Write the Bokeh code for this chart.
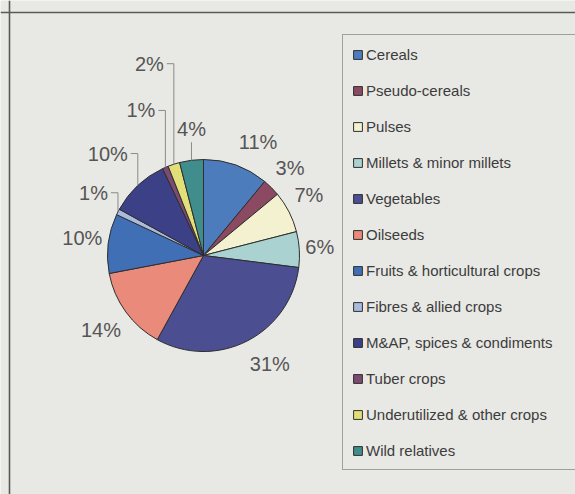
import math
from bokeh.plotting import figure
from bokeh.models import ColumnDataSource, Legend, LegendItem, Range1d, Span
from bokeh.core.properties import value
from bokeh.embed import file_html
from bokeh.resources import INLINE

# ---- data ----
categories = ["Cereals", "Pseudo-cereals", "Pulses", "Millets & minor millets", "Vegetables",
              "Oilseeds", "Fruits & horticultural crops", "Fibres & allied crops",
              "M&AP, spices & condiments", "Tuber crops", "Underutilized & other crops",
              "Wild relatives"]
shares = [11, 3, 7, 6, 31, 14, 10, 1, 10, 1, 2, 4]
colors = ["#4d7cbd", "#8b4a62", "#f3f1cf", "#a9d2d1", "#4b4f92", "#e98a7b",
          "#416fb6", "#a9badf", "#3c4086", "#7b4b72", "#e3df78", "#3f8d8c"]
# extra radial distance of labels that sit on leader lines (layout only)
label_push = [0, 0, 0, 0, 0, 0, 0, 6, 16, 37, 81, 7]

# ---- layout ----
W, H = 575, 494
CX, CY, R = 203, 239, 96
BG = "#e8e8e4"
FS = 20
FONT = "Liberation Sans"

total = float(sum(shares))
starts, ends, mids = [], [], []
cum = 0.0
for v in shares:
    starts.append(math.pi / 2 - 2 * math.pi * cum / total)
    mids.append(math.pi / 2 - 2 * math.pi * (cum + v / 2) / total)
    cum += v
    ends.append(math.pi / 2 - 2 * math.pi * cum / total)

src = ColumnDataSource(dict(category=categories, share=shares, color=colors,
                            start=starts, end=ends))

p = figure(width=W, height=H, output_backend="svg", toolbar_location=None,
           x_range=Range1d(0, W), y_range=Range1d(0, H),
           x_axis_type=None, y_axis_type=None, min_border=0)
p.grid.visible = False
p.outline_line_color = None
p.background_fill_color = BG
p.border_fill_color = BG

# outer frame of the scanned figure (left and top edges only visible)
p.add_layout(Span(location=9, dimension="height", line_color="#5a5a5a", line_width=1.6))
p.add_layout(Span(location=H - 12, dimension="width", line_color="#5a5a5a", line_width=1.6))

r = p.wedge(x=CX, y=CY, radius=R, start_angle="start", end_angle="end",
            direction="clock", fill_color="color", line_color="#2e2e2e",
            line_width=1, source=src)

# ---- labels ----
lab_x, lab_y, lab_t = [], [], []
lead_xs, lead_ys = [], []
g, hh, k, vstretch = 6, 10, 3.0, 0.08
for i, v in enumerate(shares):
    t = f"{v}%"
    hw = FS * (0.556 * len(str(v)) + 0.889) / 2
    c, s = math.cos(mids[i]), math.sin(mids[i])
    dist = R + g + label_push[i]
    px = CX + dist * c
    py = CY + (dist + (R + g) * vstretch) * s
    fx = max(-1.0, min(1.0, k * c))
    fy = max(-1.0, min(1.0, k * s))
    lx, ly = px + hw * fx, py + hh * fy
    if label_push[i] > 0:
        ex, ey = CX + R * c, CY + R * s
        if abs(c) < 0.2:
            lx = ex
            lead_xs.append([ex, ex])
            lead_ys.append([ly - hh - 3, ey])
        else:
            sg = 1 if c > 0 else -1
            lx = ex + sg * (hw + 10)
            side = lx - sg * (hw + 3)
            lead_xs.append([side, ex, ex])
            lead_ys.append([ly, ly, ey])
    lab_x.append(lx)
    lab_y.append(ly)
    lab_t.append(t)

p.multi_line(xs=lead_xs, ys=lead_ys, line_color="#8a8a8a", line_width=1)
p.text(x=lab_x, y=lab_y, text=lab_t, text_align="center", text_baseline="middle",
       text_font=value(FONT), text_font_size=f"{FS}px", text_color="#555555")

# ---- legend ----
items = [LegendItem(label=cat, renderers=[r], index=i) for i, cat in enumerate(categories)]
legend = Legend(items=items, location=(342, 24), margin=0, padding=9, spacing=16,
                glyph_width=11, glyph_height=11, label_standoff=3,
                label_height=20, label_width=202,
                label_text_font=FONT, label_text_font_size="15px",
                label_text_color="#3c3c3c",
                border_line_color="#555555", border_line_width=1,
                background_fill_color=BG, background_fill_alpha=1.0)
p.add_layout(legend)

open("out.html", "w").write(file_html(p, INLINE))
